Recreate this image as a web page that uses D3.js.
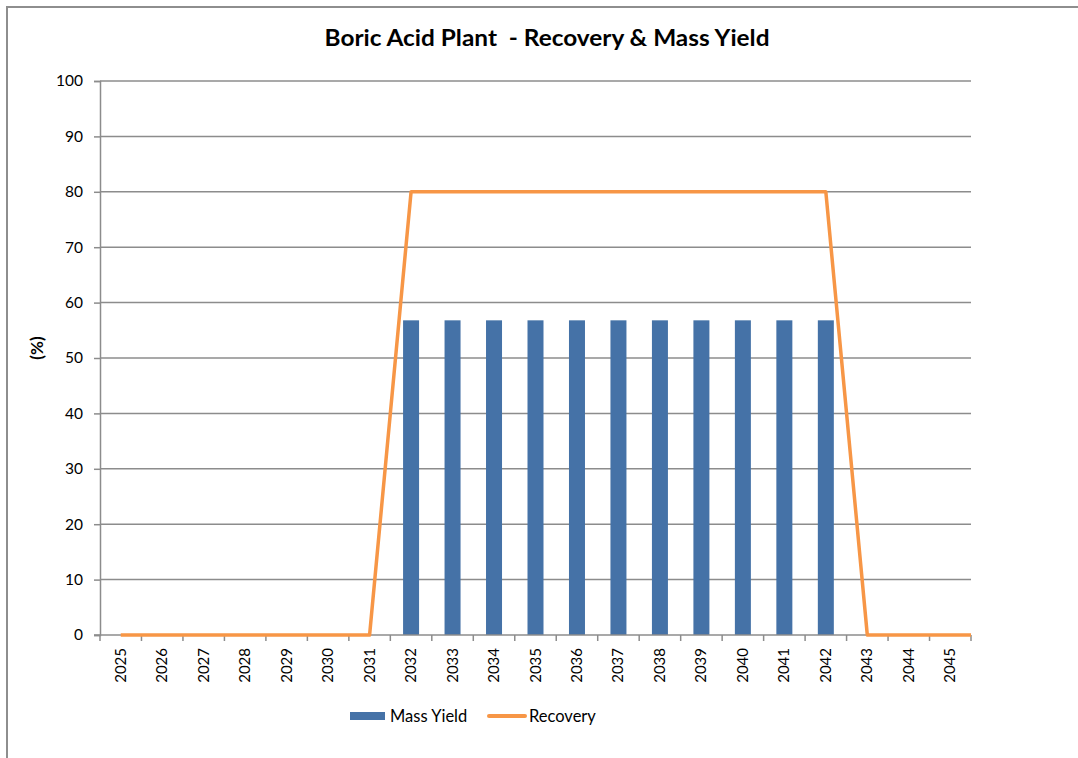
<!DOCTYPE html>
<html>
<head>
<meta charset="utf-8">
<script src="https://cdn.jsdelivr.net/npm/d3@7"></script>
<style>
  html, body { margin: 0; padding: 0; background: #fff; }
  svg { display: block; }
  text { font-family: Lato, "Open Sans", sans-serif; fill: #000; }
</style>
</head>
<body>
<svg id="chart" width="1078" height="758"></svg>
<script>
// Years on the category axis
const years = ["2025","2026","2027","2028","2029","2030","2031","2032","2033","2034","2035",
               "2036","2037","2038","2039","2040","2041","2042","2043","2044","2045"];
// Mass yield (%) per year — plant running 2032–2042
const massYield = [null,null,null,null,null,null,null,56.8,56.8,56.8,56.8,
                   56.8,56.8,56.8,56.8,56.8,56.8,56.8,null,null,null];
// Recovery (%) per year
const recovery = [0,0,0,0,0,0,0,80,80,80,80,80,80,80,80,80,80,80,0,0,0];
// Value axis ticks
const yTicks = [0,10,20,30,40,50,60,70,80,90,100];

const svg = d3.select("#chart");
const W = 1078, H = 758;
const plot = { left: 100, right: 971, top: 81, bottom: 635 };

const BLUE = "#4572A7", ORANGE = "#F79646", GRID = "#8C8C8C";

// outer chart frame
svg.append("rect")
  .attr("x", 7).attr("y", 7).attr("width", W + 10).attr("height", H + 10)
  .attr("fill", "none").attr("stroke", "#8E8E8E").attr("stroke-width", 2);

const x = d3.scaleBand().domain(years).range([plot.left, plot.right]);
const y = d3.scaleLinear().domain([0, 100]).range([plot.bottom, plot.top]);

// horizontal gridlines
svg.append("g").selectAll("line").data(yTicks.filter(d => d > 0)).join("line")
  .attr("x1", plot.left).attr("x2", plot.right)
  .attr("y1", d => y(d)).attr("y2", d => y(d))
  .attr("stroke", GRID).attr("stroke-width", 1.5);

// y axis
const yAxis = svg.append("g")
  .attr("transform", `translate(${plot.left},0)`)
  .call(d3.axisLeft(y).tickValues(yTicks).tickSize(6).tickPadding(11));
yAxis.select(".domain").attr("stroke", GRID).attr("stroke-width", 1.5);
yAxis.selectAll(".tick line").attr("stroke", GRID).attr("stroke-width", 1.5);
yAxis.selectAll(".tick text")
  .attr("font-family", "Lato, 'Open Sans', sans-serif")
  .attr("font-size", 15.5).attr("fill", "#000");

// bars
const barW = 16;
svg.append("g").selectAll("rect")
  .data(years.map((yr, i) => ({ yr, v: massYield[i] })).filter(d => d.v != null))
  .join("rect")
  .attr("x", d => x(d.yr) + x.bandwidth() / 2 - barW / 2)
  .attr("y", d => y(d.v))
  .attr("width", barW)
  .attr("height", d => y(0) - y(d.v))
  .attr("fill", BLUE);

// x axis (ticks on category boundaries)
const xAxisG = svg.append("g").attr("transform", `translate(0,${plot.bottom})`);
xAxisG.append("line")
  .attr("x1", plot.left - 6).attr("x2", plot.right)
  .attr("stroke", GRID).attr("stroke-width", 1.5);
const bounds = years.map(d => x(d)).concat([plot.right]);
xAxisG.selectAll("line.tk").data(bounds).join("line").attr("class", "tk")
  .attr("x1", d => d).attr("x2", d => d).attr("y1", 0).attr("y2", 6)
  .attr("stroke", GRID).attr("stroke-width", 1.5);
xAxisG.selectAll("text").data(years).join("text")
  .attr("transform", d => `translate(${x(d) + x.bandwidth() / 2 + 5},13) rotate(-90)`)
  .attr("text-anchor", "end")
  .attr("font-size", 15)
  .text(d => d);

// recovery line, carried flat to the right edge of the plot
const pts = years.map((yr, i) => [x(yr) + x.bandwidth() / 2, y(recovery[i])]);
pts.push([plot.right, y(recovery[recovery.length - 1])]);
svg.append("path")
  .attr("d", d3.line()(pts))
  .attr("fill", "none").attr("stroke", ORANGE)
  .attr("stroke-width", 3.5).attr("stroke-linejoin", "round");

// title
svg.append("text")
  .attr("x", 547).attr("y", 46)
  .attr("text-anchor", "middle")
  .attr("font-size", 23).attr("font-weight", "bold")
  .attr("textLength", 445).attr("lengthAdjust", "spacingAndGlyphs")
  .style("white-space", "pre")
  .text("Boric Acid Plant  - Recovery & Mass Yield");

// y axis title
svg.append("text")
  .attr("transform", "translate(43,348) rotate(-90)")
  .attr("text-anchor", "middle")
  .attr("font-size", 17).attr("font-weight", "bold")
  .text("(%)");

// legend
const lg = svg.append("g");
lg.append("rect").attr("x", 350).attr("y", 712).attr("width", 35).attr("height", 8).attr("fill", BLUE);
lg.append("text").attr("x", 390).attr("y", 722).attr("font-size", 16.5).text("Mass Yield");
lg.append("line").attr("x1", 489).attr("x2", 525).attr("y1", 716).attr("y2", 716)
  .attr("stroke", ORANGE).attr("stroke-width", 4).attr("stroke-linecap", "round");
lg.append("text").attr("x", 529).attr("y", 722).attr("font-size", 16.5).text("Recovery");
</script>
</body>
</html>
